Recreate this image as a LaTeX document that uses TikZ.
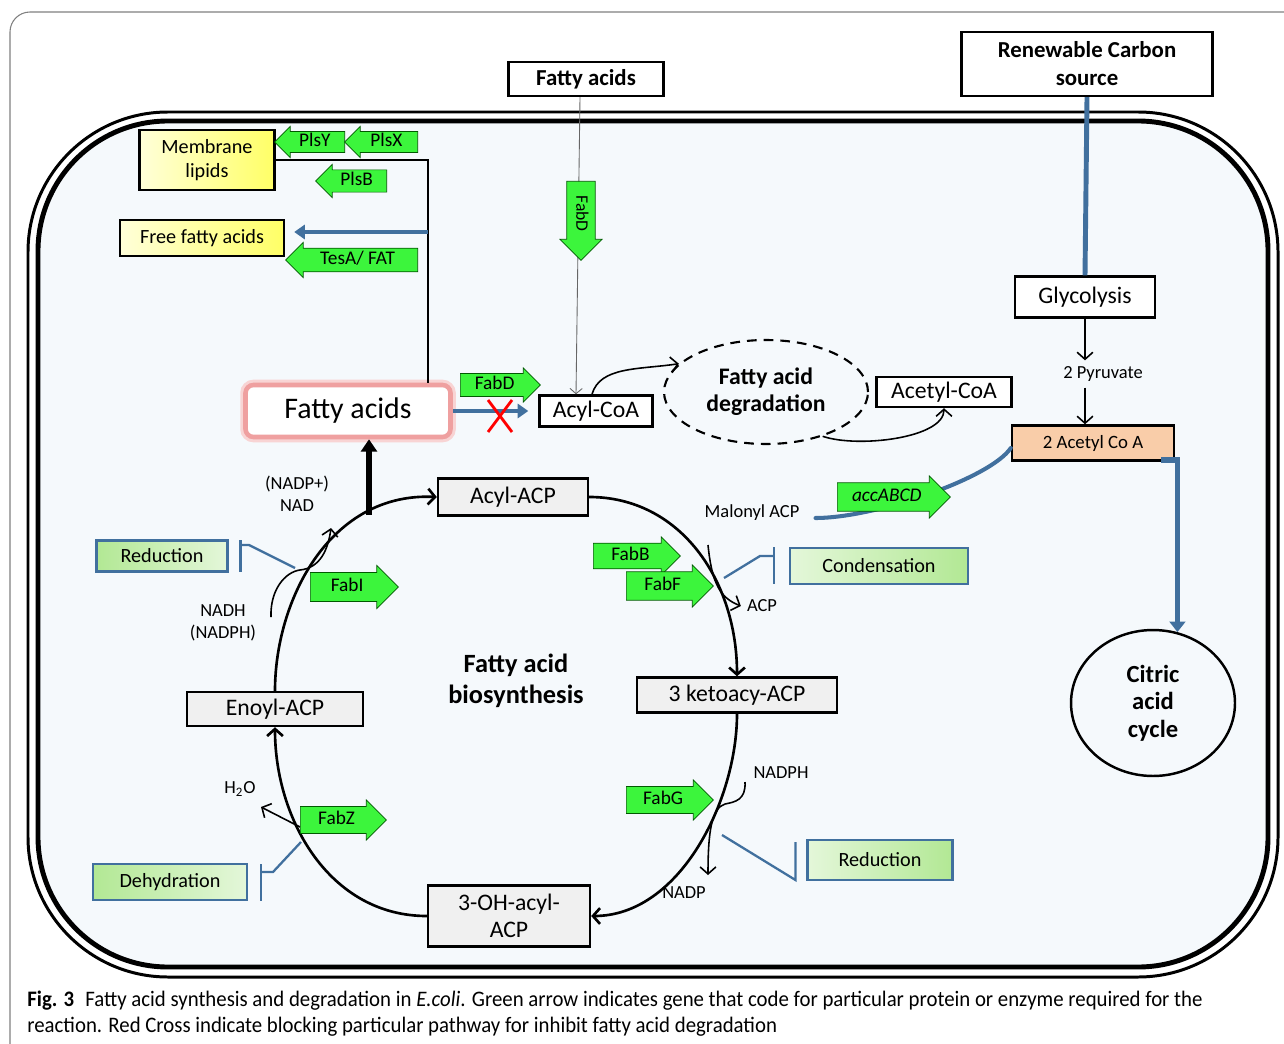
\documentclass[tikz,border=0pt]{standalone}
\usepackage{fontspec}
\setmainfont{Carlito}
\newfontfamily\capfont[FakeStretch=0.94]{Carlito}
\usetikzlibrary{positioning,calc,shapes.arrows,shapes.geometric,arrows.meta}
\definecolor{genegreen}{HTML}{3CF53C}
\definecolor{pipeblue}{HTML}{41709E}
\definecolor{cellfill}{HTML}{F5F9FC}
\definecolor{peach}{HTML}{F9CDA9}
\definecolor{glow}{HTML}{EFA0A0}
\definecolor{stepgreen}{HTML}{B2E894}

\begin{document}
\begin{tikzpicture}[
    x=0.02cm, y=-0.02cm,
    every node/.style={font=\fontsize{10.5}{12.5}\selectfont},
    mainbox/.style={draw, line width=1.4pt, fill=white, inner sep=0pt,
      align=center, font=\fontsize{13.5}{15.4}\selectfont},
    titlebox/.style={mainbox, font=\bfseries\fontsize{13}{16}\selectfont},
    cyclebox/.style={mainbox, fill=black!6},
    yellowbox/.style={draw, line width=1.4pt, left color=yellow!15,
      right color=yellow!60, inner sep=0pt, align=center,
      font=\fontsize{11.5}{13.7}\selectfont},
    stepbox/.style={draw=pipeblue, line width=1.2pt, inner sep=0pt,
      font=\fontsize{11.5}{13.5}\selectfont},
    gene/.style={single arrow, draw=green!35!black, line width=0.4pt,
      fill=genegreen, inner ysep=0.9pt, inner xsep=2pt,
      single arrow head extend=0.1cm, text height=7.4pt, text depth=2.2pt,
      anchor=tail, font=\fontsize{11}{12}\selectfont},
    geneleft/.style={gene, shape border rotate=180},
    flow/.style={-{Straight Barb[length=4pt,width=9pt]}, line width=0.9pt},
    cyc/.style={flow, line width=1.5pt},
    pipe/.style={draw=pipeblue, line width=2.3pt},
    inhib/.style={draw=pipeblue, line width=1.3pt}
  ]
  \useasboundingbox (0,0) rectangle (1284,1044);

  % card and cell
  \draw[gray, line width=0.6pt, rounded corners=0.4cm] (10,12) rectangle (1320,1080);
  \draw[line width=1.7pt, rounded corners=2.8cm] (28,112) rectangle (1278,977);
  \draw[line width=2.8pt, fill=cellfill, rounded corners=2.6cm] (38,121) rectangle (1268,967);

  % outside sources
  \node[titlebox, minimum width=3.1cm, minimum height=0.68cm] (fatop) at (586,79) {Fatty acids};
  \node[titlebox, minimum width=5.02cm, minimum height=1.28cm] (renew) at (1087,64)
    {Renewable Carbon\\source};

  % lipids
  \node[yellowbox, minimum width=2.7cm, minimum height=1.2cm] (memb) at (207,160) {Membrane\\lipids};
  \node[yellowbox, minimum width=3.28cm, minimum height=0.72cm] (freefa) at (202,238) {Free fatty acids};
  \node[mainbox, draw=glow, line width=2.6pt, rounded corners=0.16cm,
    preaction={draw=glow!45, line width=6pt, rounded corners=0.16cm},
    minimum width=4.1cm, minimum height=1.04cm, font=\fontsize{17}{20}\selectfont]
    (fabig) at (348,411) {Fatty acids};

  \coordinate (branch) at (428,160);
  \coordinate (ffa) at (428,232);
  \draw[line width=1.4pt] (memb.east) -- (branch) -- (branch |- fabig.north);
  \draw[pipe, -{Triangle[length=6pt,width=8pt]}, shorten >=0.18cm] (ffa) -- (ffa -| freefa.east);

  \node[geneleft, minimum height=1.4cm, minimum width=0.62cm] (plsy) at (345,142) {PlsY};
  \node[geneleft, minimum height=1.46cm, minimum width=0.62cm] (plsx) at (418,142) {PlsX};
  \node[geneleft, minimum height=1.42cm, minimum width=0.66cm] (plsb) at (387,181) {PlsB};
  \node[geneleft, minimum height=2.64cm, minimum width=0.7cm] (tesa) at (418,260) {TesA/ FAT};

  % degradation
  \node[mainbox, minimum width=2.26cm, minimum height=0.62cm] (acylcoa) at (596,411) {Acyl-CoA};
  \node[ellipse, draw, dashed, dash pattern=on 5.5pt off 4pt, line width=1.2pt,
    minimum width=4.08cm, minimum height=2.08cm, inner sep=0pt, align=center,
    font=\bfseries\fontsize{13.5}{15.4}\selectfont] (degr) at (766,392) {Fatty acid\\degradation};
  \node[mainbox, minimum width=2.7cm, minimum height=0.6cm] (acetyl) at (944,392) {Acetyl-CoA};

  \draw[gray!80!black, line width=0.5pt, -{Straight Barb[length=3pt,width=7pt]}]
    ($(fatop.south)+(-6,0)$) -- ($(acylcoa.north)+(-20,0)$);
  \node[gene, rotate=-90, minimum height=1.58cm, minimum width=0.84cm,
    font=\fontsize{10}{12}\selectfont] (fabdin) at (581,181) {FabD};

  \draw[flow] ($(acylcoa.north)+(-4,0)$) .. controls +(8,-28) and +(-40,6) .. (degr.162);
  \draw[flow] (degr.-38) .. controls +(35,12) and +(0,30) .. (acetyl.south);

  \draw[pipe, -{Triangle[length=6pt,width=8pt]}, shorten >=0.2cm] (fabig.east) -- (fabig.east -| acylcoa.west);
  \coordinate (block) at (500,416);
  \draw[red, line width=1.6pt] ($(block)+(-12,-16)$) -- ($(block)+(12,16)$)
    ($(block)+(12,-16)$) -- ($(block)+(-12,16)$);
  \node[gene, minimum height=1.6cm, minimum width=0.68cm] (fabd) at (460,385) {FabD};

  % glycolysis
  \node[mainbox, minimum width=2.8cm, minimum height=0.82cm] (glyc) at (1085,297) {Glycolysis};
  \node (pyr) at (1103,374) {2 Pyruvate};
  \node[mainbox, fill=peach, minimum width=3.24cm, minimum height=0.7cm,
    font=\fontsize{10.7}{12}\selectfont] (acetyl2) at (1093,443) {2 Acetyl Co A};
  \node[ellipse, draw, line width=1.4pt, minimum width=3.28cm, minimum height=2.92cm,
    inner sep=0pt, align=center, font=\bfseries\fontsize{14}{15.6}\selectfont]
    (citric) at (1153,703) {Citric\\acid\\cycle};

  \draw[pipe, line width=2.8pt] (renew.south) -- (glyc.north);
  \draw[flow] (glyc.south) -- (glyc.south |- pyr.north);
  \draw[flow] (glyc.south |- pyr.south) -- (glyc.south |- acetyl2.north);
  \draw[pipe, line width=3.2pt, -{Triangle[length=6pt,width=9pt]}]
    ($(acetyl2.south east)+(-14,-2)$) -| (citric.71);

  \node (malonyl) at (752,513) {Malonyl ACP};
  \draw[pipe, line cap=round] ($(acetyl2.west)+(0,5)$) .. controls +(-20,30) and +(60,0) .. ($(malonyl.east)+(10,5)$);
  \node[gene, minimum height=2.26cm, minimum width=0.84cm,
    font=\itshape\fontsize{11}{12}\selectfont] (acc) at (837,497) {accABCD};

  % biosynthesis cycle
  \node[cyclebox, minimum width=3.0cm, minimum height=0.74cm] (acylacp) at (513,497) {Acyl-ACP};
  \node[cyclebox, minimum width=4.0cm, minimum height=0.7cm] (keto) at (737,695) {3 ketoacy-ACP};
  \node[cyclebox, minimum width=3.24cm, minimum height=1.22cm] (ohacp) at (509,916) {3-OH-acyl-\\ACP};
  \node[cyclebox, minimum width=3.52cm, minimum height=0.68cm] (enoyl) at (275,709) {Enoyl-ACP};
  \node[align=center, font=\bfseries\fontsize{15}{17.6}\selectfont] (fabtitle) at (516,681)
    {Fatty acid\\biosynthesis};

  \draw[cyc] (enoyl.north) .. controls (275,600) and (330,492) .. (acylacp.west);
  \draw[cyc] (acylacp.east) .. controls (680,497) and (737,580) .. (keto.north);
  \draw[cyc] (keto.south) .. controls (737,800) and (680,916) .. (ohacp.east);
  \draw[cyc] (ohacp.west) .. controls (330,916) and (275,820) .. (enoyl.south);

  \coordinate (cyctop) at (369,515);
  \draw[line width=3pt, -{Triangle[length=7pt,width=9pt]}] (cyctop) -- (cyctop |- fabig.south);

  % reduction (enoyl)
  \node[align=center] (nad) at (297,494) {(NADP+)\\NAD};
  \node[align=center] (nadh) at (223,623) {NADH\\(NADPH)};
  \coordinate (nadin) at (271,617);
  \coordinate (nadout) at (331,528);
  \draw[flow] (nadin) .. controls +(-1,-27) and +(-15,2) .. (300,570)
    .. controls +(20,-2) and +(-3,22) .. (nadout);
  \node[stepbox, left color=stepgreen, right color=stepgreen!35, minimum width=2.62cm,
    minimum height=0.62cm] (red1) at (162,556) {Reduction};
  \draw[inhib] ($(red1.east)+(12,-16)$) -- ($(red1.east)+(12,16)$);
  \draw[inhib] (295,568) -- (249,545) -- ($(red1.east)+(12,-11)$);
  \node[gene, minimum height=1.76cm, minimum width=0.86cm] (fabi) at (310,587) {FabI};

  % condensation
  \coordinate (acpin) at (708,545);
  \node (acp) at (762,606) {ACP};
  \draw[flow] (acpin) .. controls +(4,40) and +(-20,-8) .. (acp.west);
  \node[stepbox, left color=stepgreen!35, right color=stepgreen, minimum width=3.56cm,
    minimum height=0.72cm] (cond) at (879,566) {Condensation};
  \draw[inhib] ($(cond.west)+(-15,-19)$) -- ($(cond.west)+(-15,18)$);
  \draw[inhib] (724,578) -- (760,556) -- ($(cond.west)+(-15,-10)$);
  \node[gene, minimum height=1.74cm, minimum width=0.76cm] (fabb) at (593,556) {FabB};
  \node[gene, minimum height=1.74cm, minimum width=0.84cm] (fabf) at (626,586) {FabF};

  % reduction (keto)
  \node (nadph) at (781,773) {NADPH};
  \node (nadp) at (684,893) {NADP};
  \coordinate (nadphin) at (745,782);
  \coordinate (nadpout) at (708,875);
  \draw[flow] (nadphin) .. controls +(1,18) and +(10,-2) .. (725,804)
    .. controls +(-13,4) and +(0,-45) .. (nadpout);
  \node[stepbox, left color=stepgreen!35, right color=stepgreen, minimum width=2.9cm,
    minimum height=0.8cm] (red2) at (880,860) {Reduction};
  \draw[inhib] (722,835) -- ($(red2.west)+(-11,20)$) -- ($(red2.west)+(-11,-18)$);
  \node[gene, minimum height=1.74cm, minimum width=0.8cm] (fabg) at (626,800) {FabG};

  % dehydration
  \node (water) at (240,789) {H\textsubscript{2}O};
  \coordinate (waterin) at (300,827);
  \draw[flow] (waterin) -- (261,807);
  \node[stepbox, left color=stepgreen, right color=stepgreen!35, minimum width=3.08cm,
    minimum height=0.72cm] (dehyd) at (170,882) {Dehydration};
  \draw[inhib] ($(dehyd.east)+(13,-18)$) -- ($(dehyd.east)+(13,19)$);
  \draw[inhib] (301,842) -- (273,872) -- ($(dehyd.east)+(13,-10)$);
  \node[gene, minimum height=1.72cm, minimum width=0.8cm] (fabz) at (300,820) {FabZ};

  % caption
  \node[anchor=north west, align=left, inner sep=0pt,
    font=\capfont\fontsize{12.6}{14.8}\selectfont] (caption) at (27,991)
    {\textbf{Fig. 3}\enspace Fatty acid synthesis and degradation in \textit{E.coli}. Green arrow indicates gene that code for particular protein or enzyme required for the\\
     reaction. Red Cross indicate blocking particular pathway for inhibit fatty acid degradation};
\end{tikzpicture}
\end{document}
